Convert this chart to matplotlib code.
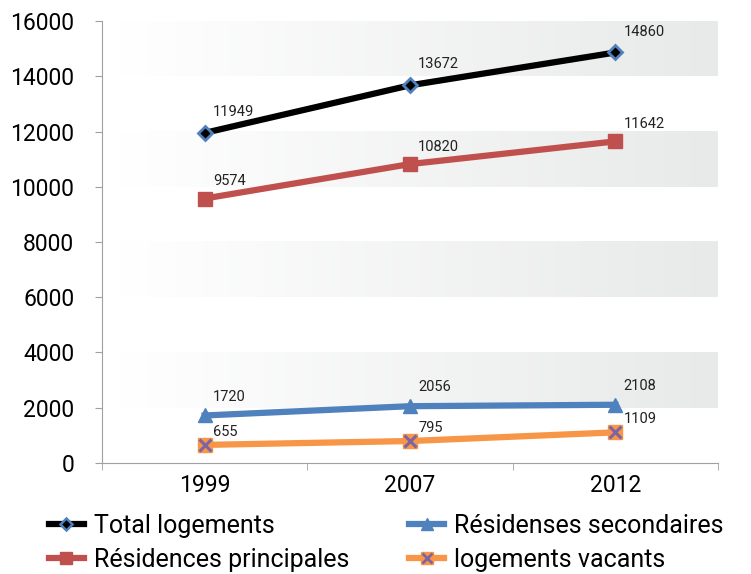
import numpy as np
import matplotlib
matplotlib.use('Agg')
import matplotlib.pyplot as plt
from matplotlib.lines import Line2D

plt.rcParams['font.family'] = ['Roboto', 'DejaVu Sans']

years = ['1999', '2007', '2012']
total = [11949, 13672, 14860]
principales = [9574, 10820, 11642]
secondaires = [1720, 2056, 2108]
vacants = [655, 795, 1109]

fig = plt.figure(figsize=(7.51, 5.74), dpi=100)
ax = fig.add_axes([0.1358, 0.1934, 0.8202, 0.77])

x = np.arange(len(years))

# gradient bands
grad = np.linspace(0, 1, 256).reshape(1, -1)
cmap = matplotlib.colors.LinearSegmentedColormap.from_list('g', ['#ffffff', '#e8e9e9'])
for lo in [2000, 6000, 10000, 14000]:
    ax.imshow(grad, extent=[-0.41, 2.5, lo, lo + 2000], aspect='auto',
              cmap=cmap, zorder=0, interpolation='bicubic')
ax.set_xlim(-0.5, 2.5)
ax.set_ylim(0, 16000)

ax.plot(x, total, color='black', lw=4.5, marker='D', ms=7,
        mfc='black', mec='#4f81bd', mew=2, zorder=5)
ax.plot(x, principales, color='#c0504d', lw=4.5, marker='s', ms=10,
        mfc='#c0504d', mec='#c0504d', zorder=4)
ax.plot(x, secondaires, color='#4f81bd', lw=4.5, marker='^', ms=10,
        mfc='#4f81bd', mec='#4f81bd', zorder=4)
ax.plot(x, vacants, color='#f79646', lw=4.5, marker='s', ms=10,
        mfc='#f79646', mec='#f79646', zorder=4)
ax.plot(x, vacants, ls='none', marker='x', ms=8, mec='#8064a2', mew=2.2, zorder=6)

# label offsets (points above the marker)
for series, dy in [(total, 15), (principales, 12.5), (secondaires, 13.5), (vacants, 9.5)]:
    for xi, v in zip(x, series):
        ax.annotate(str(v), (xi, v), xytext=(6, dy), textcoords='offset points',
                    fontsize=10.5, color='#222222', ha='left', va='center')

ax.set_yticks(range(0, 16001, 2000))
ax.set_xticks(x)
ax.set_xticklabels(years)
ax.set_xticks([-0.5, 0.5, 1.5, 2.5], minor=True)
ax.tick_params(axis='x', which='major', length=0, labelsize=16.5, pad=8)
ax.tick_params(axis='x', which='minor', length=5, color='#a0a0a0')
ax.tick_params(axis='y', length=5, color='#a0a0a0', labelsize=16.5, pad=15)
for s in ['top', 'right']:
    ax.spines[s].set_visible(False)
for s in ['left', 'bottom']:
    ax.spines[s].set_color('#a0a0a0')

handles = [
    Line2D([], [], color='black', lw=4.5, marker='D', ms=6, mfc='black', mec='#4f81bd', mew=1.8),
    Line2D([], [], color='#c0504d', lw=4.5, marker='s', ms=9, mfc='#c0504d', mec='#c0504d'),
    Line2D([], [], color='#4f81bd', lw=4.5, marker='^', ms=9, mfc='#4f81bd', mec='#4f81bd'),
    (Line2D([], [], color='#f79646', lw=4.5, marker='s', ms=9, mfc='#f79646', mec='#f79646'),
     Line2D([], [], ls='none', marker='x', ms=7, mec='#8064a2', mew=2)),
]
labels = ['Total logements', 'Résidences principales', 'Résidenses secondaires', 'logements vacants']
fig.legend(handles, labels, ncol=2, loc='lower left', bbox_to_anchor=(0.035, -0.035),
           frameon=False, fontsize=18, handlelength=1.4, handletextpad=0.4,
           columnspacing=2.4, labelspacing=0.4)

fig.savefig('out.png', dpi=100)
